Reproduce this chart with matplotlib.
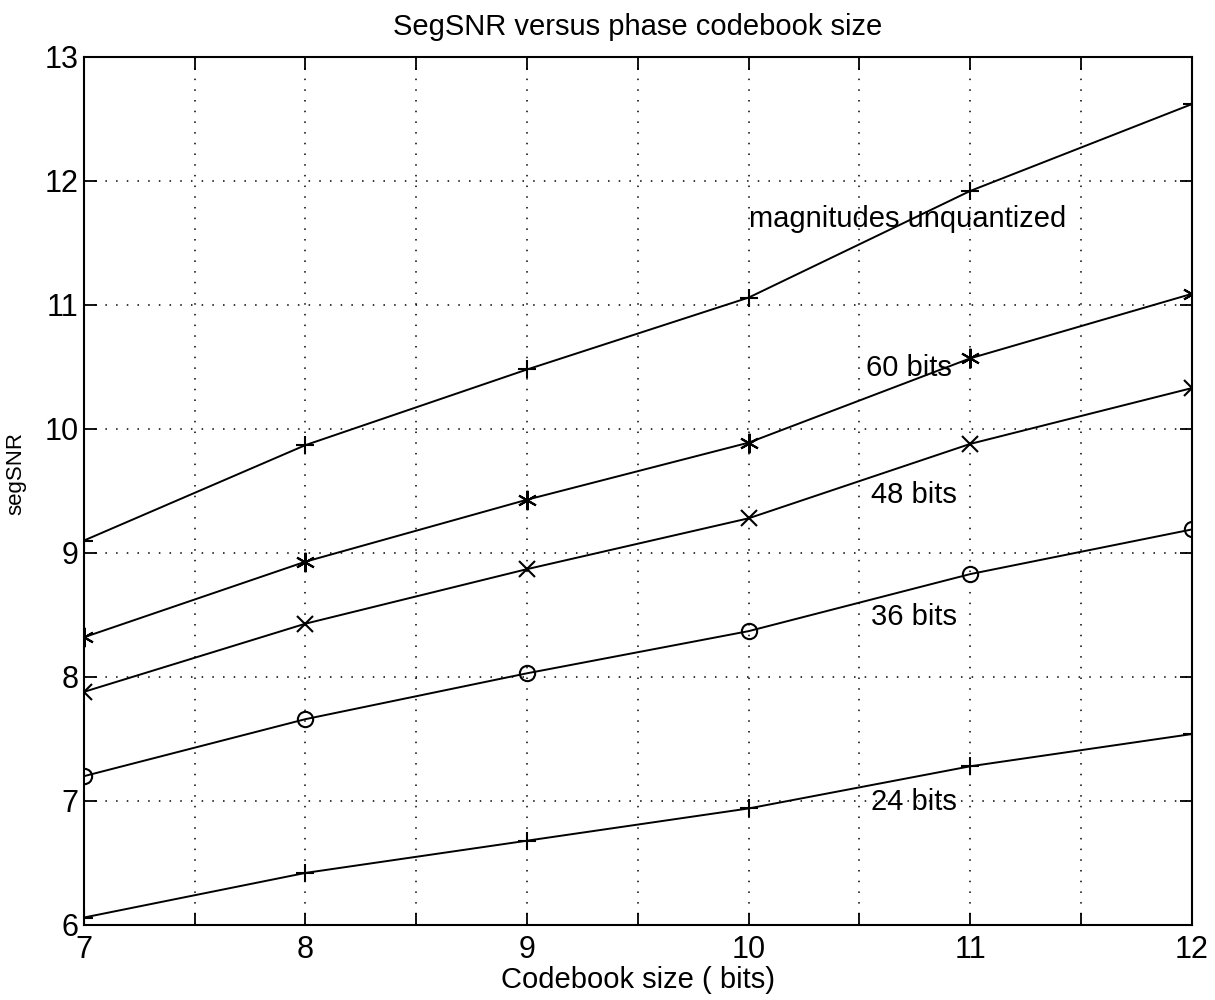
import numpy as np
import matplotlib.pyplot as plt

plt.rcParams['font.family'] = ['Liberation Sans', 'DejaVu Sans']

# datos
bits = [7, 8, 9, 10, 11, 12]
snr_unquant = [9.10, 9.87, 10.48, 11.06, 11.92, 12.62]
snr_60 = [8.32, 8.93, 9.43, 9.89, 10.57, 11.09]
snr_48 = [7.88, 8.43, 8.87, 9.28, 9.88, 10.33]
snr_36 = [7.20, 7.66, 8.03, 8.37, 8.83, 9.19]
snr_24 = [6.06, 6.42, 6.68, 6.94, 7.28, 7.54]

etiquetas = ['magnitudes unquantized', '60 bits', '48 bits', '36 bits', '24 bits']
etiqueta_x = [10.0, 10.53, 10.55, 10.55, 10.55]
etiqueta_y = [11.69, 10.49, 9.47, 8.48, 6.99]

xticks = [7, 7.5, 8, 8.5, 9, 9.5, 10, 10.5, 11, 11.5, 12]
xticklabels = ['7', '', '8', '', '9', '', '10', '', '11', '', '12']
yticks = [6, 7, 8, 9, 10, 11, 12, 13]

fig = plt.figure(figsize=(12.15, 10), dpi=100)
ax = fig.add_axes([0.069, 0.075, 0.912, 0.868])

asterisco = (6, 2, 0)
kw = dict(color='black', linewidth=1.4, markeredgewidth=1.5, markerfacecolor='none')
ax.plot(bits, snr_unquant, marker='+', markersize=13, **kw)
ax.plot(bits, snr_60, marker=asterisco, markersize=14, **kw)
ax.plot(bits, snr_48, marker='x', markersize=11, **kw)
ax.plot(bits, snr_36, marker='o', markersize=11, **kw)
ax.plot(bits, snr_24, marker='+', markersize=13, **kw)

for t, x, y in zip(etiquetas, etiqueta_x, etiqueta_y):
    ax.text(x, y, t, fontsize=21, va='center', ha='left')

ax.set_xlim(7, 12)
ax.set_ylim(6, 13)
ax.set_xticks(xticks)
ax.set_xticklabels(xticklabels)
ax.set_yticks(yticks)
ax.tick_params(direction='in', length=9, width=1.3, top=True, right=True,
               labelsize=22)
ax.tick_params(axis='x', pad=7)
ax.tick_params(axis='y', pad=4)
ax.grid(True, color='black', linestyle=(0, (1, 6)), linewidth=1.1)
for s in ax.spines.values():
    s.set_linewidth(1.5)

ax.set_title('SegSNR versus phase codebook size', fontsize=21, pad=16)
ax.set_xlabel('Codebook size ( bits)', fontsize=21, labelpad=1)
ax.set_ylabel('segSNR', fontsize=16)
ax.yaxis.set_label_coords(-0.052, 0.52)

fig.savefig('out.png', dpi=100)
